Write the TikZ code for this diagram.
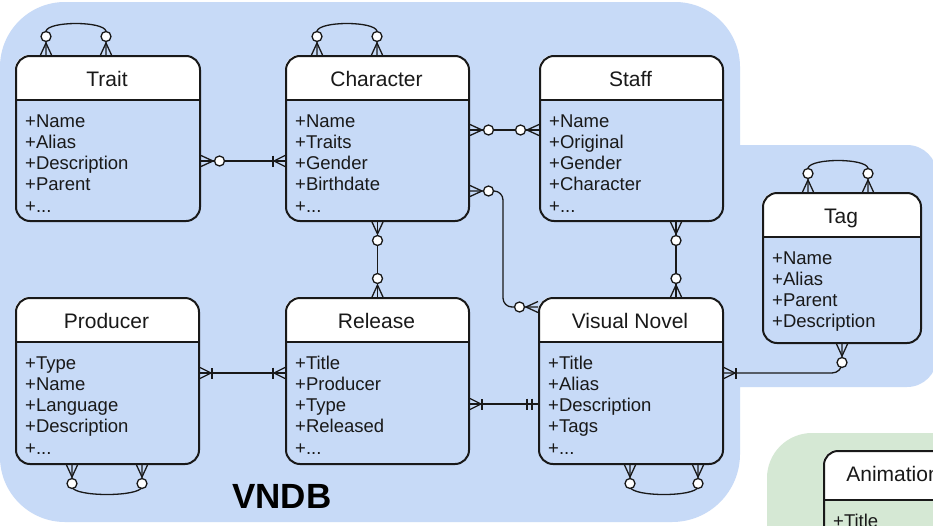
\documentclass[tikz,border=0pt]{standalone}
\usepackage{fontspec}
\setmainfont{Liberation Sans}
\usetikzlibrary{calc}
\definecolor{vnblue}{RGB}{199,218,247}
\definecolor{anigreen}{RGB}{213,232,212}
\definecolor{ink}{RGB}{25,25,25}
\tikzset{
  erbox/.style={draw=ink, line width=2pt, rounded corners=14pt, inner sep=0pt, rectangle},
  ertitle/.style={font=\fontsize{21}{24}\selectfont, text=ink, inner sep=0pt, anchor=base},
  erattr/.style={font=\fontsize{18.5}{21}\selectfont, text=ink, inner sep=0pt, anchor=base west},
  erhead/.style={draw=ink, line width=1.6pt},
  relline/.style={draw=ink, line width=1.3pt},
  relring/.style={draw=ink, line width=1.3pt, fill=white},
}
% entity: id, x, y, w, h, header height, title, attributes
\newcommand\erent[8]{%
  \begin{scope}
    \clip (#2,#3) rectangle (#2+#4,#3+#6);
    \fill[white, rounded corners=14pt] (#2,#3) rectangle (#2+#4,#3+#5);
  \end{scope}
  \draw[erhead] (#2,#3+#6) -- (#2+#4,#3+#6);
  \node[erbox, minimum width=#4pt, minimum height=#5pt, anchor=north west] (#1) at (#2,#3) {};
  \node[ertitle] (#1-title) at (#2+#4/2,#3+31) {#7};
  \foreach \myattr [count=\i] in {#8}
    \node[erattr] (#1-attr\i) at (#2+10,#3+#6+5.75+\i*21.25) {\myattr};
}
% zero or many
\newcommand\erzm[2]{%
  \begin{scope}[shift={(#1)}, rotate=#2]
    \draw[relline] (0,5.5) -- (12,0) -- (0,-5.5);
    \draw[relring] (18.5,0) circle (5pt);
  \end{scope}}
% one or many
\newcommand\erom[2]{%
  \begin{scope}[shift={(#1)}, rotate=#2]
    \draw[relline] (0,5.5) -- (11,0) -- (0,-5.5);
    \draw[relline] (12,5.5) -- (12,-5.5);
  \end{scope}}
% mandatory one
\newcommand\ermo[2]{%
  \begin{scope}[shift={(#1)}, rotate=#2]
    \draw[relline] (6,5.5) -- (6,-5.5);
    \draw[relline] (11,5.5) -- (11,-5.5);
  \end{scope}}
\begin{document}
\begin{tikzpicture}[x=1pt,y=-1pt]
\useasboundingbox (0,0) rectangle (933,525);
\clip (0,0) rectangle (933,525);
\fill[white] (0,0) rectangle (933,525);
% VNDB area
\fill[vnblue] (0,67) .. controls (0,31.1) and (29.1,2) .. (65,2)
  -- (675,2) .. controls (710.9,2) and (740,31.1) .. (740,67)
  -- (740,145) -- (907,145) .. controls (923.6,145) and (937,158.4) .. (937,175)
  -- (937,357) .. controls (937,373.6) and (923.6,387) .. (907,387)
  -- (740,387) -- (740,454) .. controls (740,491.6) and (709.6,522) .. (672,522)
  -- (65,522) .. controls (29.1,522) and (0,492.9) .. (0,457) -- cycle;
% Animation area
\fill[anigreen] (767,478) .. controls (767,453.1) and (787.1,433) .. (812,433)
  -- (1000,433) -- (1000,600) -- (767,600) -- cycle;

% entities
\erent{trait}{15}{55}{184}{165}{45}{Trait}{+Name,+Alias,+Description,+Parent,+.{}.{}.}
\erent{char}{285}{55}{183}{165}{45}{Character}{+Name,+Traits,+Gender,+Birthdate,+.{}.{}.}
\erent{staff}{539}{55}{183}{165}{45}{Staff}{+Name,+Original,+Gender,+Character,+.{}.{}.}
\erent{tag}{762}{192}{158}{150}{45}{Tag}{+Name,+Alias,+Parent,+Description}
\erent{prod}{15}{297}{183}{166}{45}{Producer}{+Type,+Name,+Language,+Description,+.{}.{}.}
\erent{rls}{285}{297}{183}{166}{45}{Release}{+Title,+Producer,+Type,+Released,+.{}.{}.}
\erent{vn}{538}{297}{184}{166}{45}{Visual Novel}{+Title,+Alias,+Description,+Tags,+.{}.{}.}
\erent{anim}{823}{450}{140}{150}{50}{Animation}{+Title}

\node[font=\fontsize{35}{40}\selectfont\bfseries, text=black, anchor=base west, inner sep=0pt] (vndb) at (232,508) {VNDB};

% relations
\draw[relline] (trait.east |- 0,161) -- (char.west |- 0,161);
\erzm{trait.east |- 0,161}{0}
\erom{char.west |- 0,161}{180}

\draw[relline] (char.east |- 0,130) -- (staff.west |- 0,130);
\erzm{char.east |- 0,130}{0}
\erzm{staff.west |- 0,130}{180}

\draw[relline, rounded corners=9pt] (char.east |- 0,191) -| (503,250) |- (vn.west |- 0,307);
\erzm{char.east |- 0,191}{0}
\erzm{vn.west |- 0,307}{180}

\draw[relline] (char.south) -- (rls.north);
\erzm{char.south}{270}
\erzm{rls.north}{90}

\draw[relline] (staff.south -| 676,0) -- (vn.north -| 676,0);
\erzm{staff.south -| 676,0}{270}
\erzm{vn.north -| 676,0}{90}

\draw[relline] (prod.east |- 0,373) -- (rls.west |- 0,373);
\erom{prod.east |- 0,373}{0}
\erom{rls.west |- 0,373}{180}

\draw[relline] (rls.east |- 0,404) -- (vn.west |- 0,404);
\erom{rls.east |- 0,404}{0}
\ermo{vn.west |- 0,404}{180}

\draw[relline, rounded corners=10pt] (vn.east |- 0,373) -| (tag.south);
\erom{vn.east |- 0,373}{0}
\erzm{tag.south}{270}

% self relations
\draw[relline] (trait.north -| 46,0) -- (46,31) .. controls (49,21) and (103,21) .. (106,31) -- (trait.north -| 106,0);
\erzm{trait.north -| 46,0}{90}
\erzm{trait.north -| 106,0}{90}

\draw[relline] (char.north -| 317,0) -- (317,31) .. controls (320,21) and (374,21) .. (377,31) -- (char.north -| 377,0);
\erzm{char.north -| 317,0}{90}
\erzm{char.north -| 377,0}{90}

\draw[relline] (tag.north -| 808,0) -- (808,168) .. controls (811,158) and (865,158) .. (868,168) -- (tag.north -| 868,0);
\erzm{tag.north -| 808,0}{90}
\erzm{tag.north -| 868,0}{90}

\draw[relline] (prod.south -| 72,0) -- (72,487) .. controls (75,497) and (139,497) .. (142,487) -- (prod.south -| 142,0);
\erzm{prod.south -| 72,0}{270}
\erzm{prod.south -| 142,0}{270}

\draw[relline] (vn.south -| 630,0) -- (630,487) .. controls (633,497) and (695,497) .. (698,487) -- (vn.south -| 698,0);
\erzm{vn.south -| 630,0}{270}
\erzm{vn.south -| 698,0}{270}
\end{tikzpicture}
\end{document}
